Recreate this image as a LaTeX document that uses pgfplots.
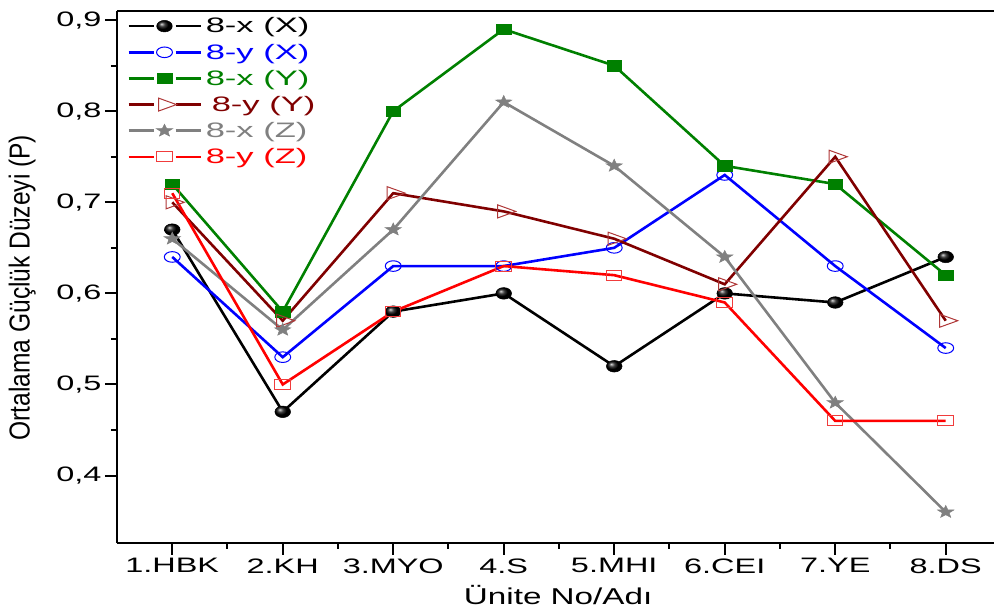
\documentclass[border=0pt]{standalone}
\usepackage{pgfplots}
\pgfplotsset{compat=1.18}
\usepackage{fontspec}
\setmainfont{Liberation Sans}[FakeStretch=1.55]
\newfontfamily\legfont{Liberation Sans}[FakeStretch=1.65]
\newfontfamily\xlabfont{Liberation Sans}[FakeStretch=1.45]
\newfontfamily\ylabfont{Liberation Sans}[FakeStretch=0.85]
\definecolor{dgreen}{RGB}{0,128,0}
\definecolor{dred}{RGB}{128,0,0}
\definecolor{mgray}{RGB}{128,128,128}
\definecolor{trired}{RGB}{175,55,55}
\definecolor{sqred}{RGB}{240,60,60}
\definecolor{cblue}{RGB}{0,0,255}
\definecolor{cred}{RGB}{255,0,0}

\pgfdeclareplotmark{fstar}{%
  \pgfpathmoveto{\pgfpointpolar{90}{\pgfplotmarksize}}%
  \pgfpathlineto{\pgfpointpolar{126}{0.42\pgfplotmarksize}}%
  \pgfpathlineto{\pgfpointpolar{162}{\pgfplotmarksize}}%
  \pgfpathlineto{\pgfpointpolar{198}{0.42\pgfplotmarksize}}%
  \pgfpathlineto{\pgfpointpolar{234}{\pgfplotmarksize}}%
  \pgfpathlineto{\pgfpointpolar{270}{0.42\pgfplotmarksize}}%
  \pgfpathlineto{\pgfpointpolar{306}{\pgfplotmarksize}}%
  \pgfpathlineto{\pgfpointpolar{342}{0.42\pgfplotmarksize}}%
  \pgfpathlineto{\pgfpointpolar{18}{\pgfplotmarksize}}%
  \pgfpathlineto{\pgfpointpolar{54}{0.42\pgfplotmarksize}}%
  \pgfpathclose
  \pgfusepathqfillstroke}

\begin{document}
\begin{tikzpicture}
\useasboundingbox (0,0) rectangle (994bp,612bp);
\begin{axis}[
  at={(117bp,69bp)}, anchor=south west,
  width=877bp, height=532bp, scale only axis,
  xmin=0.5, xmax=8.437, ymin=0.326, ymax=0.91,
  axis x line*=bottom, axis y line*=left,
  axis line style={line width=2bp, -},
  xtick={1,...,8},
  xticklabels={1.HBK,2.KH,3.MYO,4.S,5.MHI,6.CEI,7.YE,8.DS},
  minor x tick num=1,
  ytick={0.4,0.5,0.6,0.7,0.8,0.9},
  yticklabels={0{,}4,0{,}5,0{,}6,0{,}7,0{,}8,0{,}9},
  minor y tick num=1,
  tick align=outside,
  major tick length=12bp, minor tick length=6bp,
  every tick/.style={line width=2bp, black},
  tick label style={font=\fontsize{21}{24}\selectfont},
  xlabel={\xlabfont Ünite No/Adı},
  xlabel style={font=\fontsize{23}{26}\selectfont, at={(axis description cs:0.503,-0.097)}, anchor=center},
  ylabel={\ylabfont Ortalama Güçlük Düzeyi (P)},
  ylabel style={font=\fontsize{29}{32}\selectfont, at={(axis description cs:-0.108,0.48)}, anchor=center},
  legend style={at={(axis description cs:0.008,0.995)}, anchor=north west, draw=none, fill=none,
    font=\legfont\fontsize{21}{23}\selectfont, row sep=5.5bp,
    /tikz/every odd column/.append style={column sep=2bp}},
  legend cell align=left,
  legend image code/.code={%
    \draw[mark=none] (0bp,0bp) -- (25bp,0bp) (47bp,0bp) -- (72bp,0bp);
    \draw plot[only marks] coordinates {(36bp,0bp)};},
  every axis plot/.append style={line width=2.6bp},
]
\draw[line width=2bp] (rel axis cs:0,1) -- (rel axis cs:1,1);

\addplot[black, mark=ball, mark size=5.8bp, mark options={ball color=black, xscale=1.35, line width=0.5bp}]
  coordinates {(1,0.67) (2,0.47) (3,0.58) (4,0.60) (5,0.52) (6,0.60) (7,0.59) (8,0.64)};
\addlegendentry{\textcolor{black}{8-x (X)}}

\addplot[cblue, mark=o, mark size=5.3bp, mark options={xscale=1.5, line width=1bp, fill=white}]
  coordinates {(1,0.64) (2,0.53) (3,0.63) (4,0.63) (5,0.65) (6,0.73) (7,0.63) (8,0.54)};
\addlegendentry{\textcolor{cblue}{8-y (X)}}

\addplot[dgreen, mark=square*, mark size=5.3bp, mark options={xscale=1.4, line width=0.5bp}]
  coordinates {(1,0.72) (2,0.58) (3,0.80) (4,0.89) (5,0.85) (6,0.74) (7,0.72) (8,0.62)};
\addlegendentry{\textcolor{dgreen}{8-x (Y)}}

\addplot[dred, mark=triangle, mark size=7.5bp, mark options={trired, xscale=1.6, rotate=-90, line width=1bp, fill=white}]
  coordinates {(1,0.70) (2,0.57) (3,0.71) (4,0.69) (5,0.66) (6,0.61) (7,0.75) (8,0.57)};
\addlegendentry{\textcolor{dred}{\hspace{6bp}8-y (Y)}}

\addplot[mgray, mark=fstar, mark size=6.6bp, mark options={xscale=1.3, line width=0.5bp}]
  coordinates {(1,0.66) (2,0.56) (3,0.67) (4,0.81) (5,0.74) (6,0.64) (7,0.48) (8,0.36)};
\addlegendentry{\textcolor{mgray}{8-x (Z)}}

\addplot[cred, mark=square, mark size=5bp, mark options={sqred, xscale=1.55, line width=1bp, fill=white}]
  coordinates {(1,0.71) (2,0.50) (3,0.58) (4,0.63) (5,0.62) (6,0.59) (7,0.46) (8,0.46)};
\addlegendentry{\textcolor{cred}{8-y (Z)}}
\end{axis}
\end{tikzpicture}
\end{document}
